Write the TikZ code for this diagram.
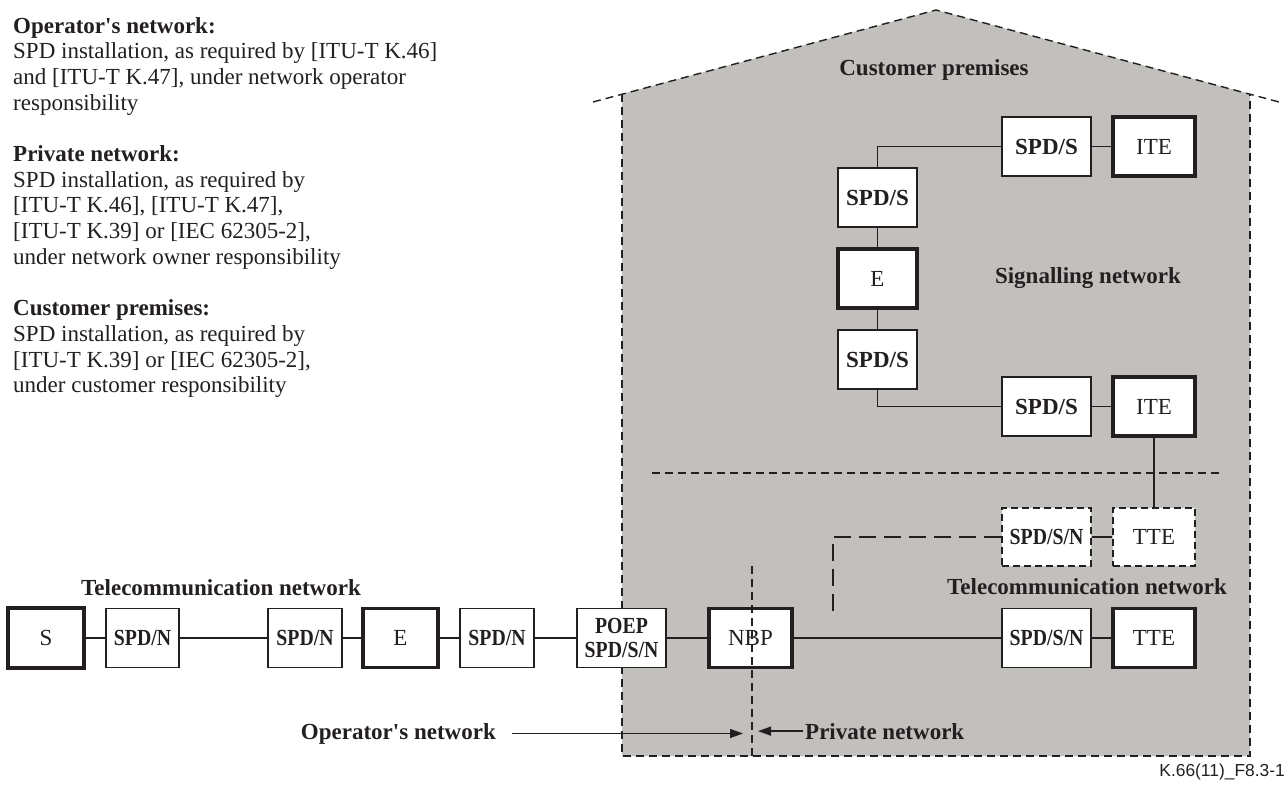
\documentclass[tikz,border=0pt]{standalone}
\usepackage{fontspec}
\setmainfont{Liberation Serif}[Ligatures=TeXOff]
\newfontfamily\sansf{Liberation Sans}
\usepackage{graphicx}
\usetikzlibrary{arrows.meta,calc}
\definecolor{ink}{RGB}{35,31,32}
\definecolor{house}{RGB}{193,192,189}
\newcommand{\narrowtxt}[1]{\scalebox{0.86}[1]{#1}}
\begin{document}
\begin{tikzpicture}[x=1pt,y=-1pt,
 every node/.style={text=ink},
 boxbase/.style={draw=ink,fill=white,inner sep=0pt,minimum height=59pt,font=\fontsize{23}{24}\selectfont},
 thin box/.style={boxbase,line width=1.4pt,font=\fontsize{23}{24}\selectfont\bfseries},
 thick box/.style={boxbase,line width=3.4pt},
 dash box/.style={boxbase,line width=1.4pt,dash pattern=on 7pt off 4pt},
 conn/.style={draw=ink,line width=1.4pt},
 sdash/.style={draw=ink,line width=1.4pt,dash pattern=on 8pt off 5pt},
 ldash/.style={draw=ink,line width=1.4pt,dash pattern=on 17pt off 8pt},
 lbl/.style={font=\fontsize{23}{25.7}\selectfont\bfseries,inner sep=0pt},
 txt/.style={font=\fontsize{23}{25.7}\selectfont,inner sep=0pt,anchor=base west},
 btxt/.style={font=\fontsize{23}{25.7}\selectfont\bfseries,inner sep=0pt,anchor=base west},
 arr/.style={draw=ink,line width=1.4pt,-{Triangle[length=13pt,width=9pt]}},
]
\useasboundingbox (0,0) rectangle (1287,787);

% house
\fill[house] (622,756) -- (622,94) -- (936,10) -- (1250,94) -- (1250,756) -- cycle;
\draw[sdash] (593,102) -- (936,10) -- (1279,102);
\draw[sdash] (622,94) -- (622,756) -- (1250,756) -- (1250,94);
\draw[sdash] (652,473) -- (1220,473);

% left text
\node[btxt] (t0) at (13,33) {Operator's network:};
\node[txt] (t1) at (13,58.7) {SPD installation, as required by [ITU-T K.46]};
\node[txt] (t2) at (13,84.4) {and [ITU-T K.47], under network operator};
\node[txt] (t3) at (13,110.1) {responsibility};
\node[btxt] (t5) at (13,161.5) {Private network:};
\node[txt] (t6) at (13,187.2) {SPD installation, as required by};
\node[txt] (t7) at (13,212.9) {[ITU-T K.46], [ITU-T K.47],};
\node[txt] (t8) at (13,238.6) {[ITU-T K.39] or [IEC 62305-2],};
\node[txt] (t9) at (13,264.3) {under network owner responsibility};
\node[btxt] (t11) at (13,315.7) {Customer premises:};
\node[txt] (t12) at (13,341.4) {SPD installation, as required by};
\node[txt] (t13) at (13,367.1) {[ITU-T K.39] or [IEC 62305-2],};
\node[txt] (t14) at (13,392.8) {under customer responsibility};

% labels
\node[lbl,anchor=base] (cp) at (934,75) {Customer premises};
\node[lbl,anchor=base] (sig) at (1088,283) {Signalling network};
\node[lbl,anchor=base] (telL) at (221,595) {Telecommunication network};
\node[lbl,anchor=base] (telR) at (1087,594) {Telecommunication network};
\node[lbl,anchor=base east] (opnet) at (496,739) {Operator's network};
\node[lbl,anchor=base west] (privnet) at (805,739) {Private network};
\node[anchor=base east,inner sep=0pt,font=\sansf\fontsize{17.4}{20}\selectfont] (fig) at (1285,776) {K.66(11)\_F8.3-1};

% boxes: bottom row
\node[thick box,minimum width=76pt,minimum height=60pt] (S) at (46,638) {S};
\node[thin box,minimum width=73pt] (spdn1) at (142.5,638) {\narrowtxt{SPD/N}};
\node[thin box,minimum width=74pt] (spdn2) at (305,638) {\narrowtxt{SPD/N}};
\node[thick box,minimum width=75pt] (E1) at (400.5,638) {E};
\node[thin box,minimum width=74pt] (spdn3) at (497,638) {\narrowtxt{SPD/N}};
\node[thin box,minimum width=89pt,align=center] (poep) at (621.5,638) {\narrowtxt{POEP}\\\narrowtxt{SPD/S/N}};
\node[thick box,minimum width=83pt] (nbp) at (750.5,638) {NBP};
\node[thin box,minimum width=89pt] (spdsn) at (1046.5,638) {\narrowtxt{SPD/S/N}};
\node[thick box,minimum width=82pt] (tte) at (1154,638) {TTE};

% dashed boxes
\node[dash box,minimum width=89pt,minimum height=58pt,font=\fontsize{23}{24}\selectfont\bfseries] (dspdsn) at (1046.5,537) {\narrowtxt{SPD/S/N}};
\node[dash box,minimum width=82pt,minimum height=58pt] (dtte) at (1154,537) {TTE};

% signalling network
\node[thin box,minimum width=89pt] (spds1) at (1046.5,146.5) {SPD/S};
\node[thick box,minimum width=82pt] (ite1) at (1154,146.5) {ITE};
\node[thin box,minimum width=79pt] (vspds1) at (877.5,197.5) {SPD/S};
\node[thick box,minimum width=79pt] (E2) at (877.5,278.5) {E};
\node[thin box,minimum width=79pt] (vspds2) at (877.5,359.5) {SPD/S};
\node[thin box,minimum width=89pt] (spds3) at (1046.5,406.5) {SPD/S};
\node[thick box,minimum width=82pt] (ite2) at (1154,406.5) {ITE};

% connectors
\draw[conn] (S) -- (spdn1);
\draw[conn] (spdn1) -- (spdn2);
\draw[conn] (spdn2) -- (E1);
\draw[conn] (E1) -- (spdn3);
\draw[conn] (spdn3) -- (poep);
\draw[conn] (poep) -- (nbp);
\draw[conn] (nbp) -- (spdsn);
\draw[conn] (spdsn) -- (tte);
\draw[conn] (dspdsn) -- (dtte);
\draw[conn] (ite2) -- (dtte);
\draw[conn] (spds1) -- (ite1);
\draw[conn] (spds1.west) -| (vspds1.north);
\draw[conn] (vspds1) -- (E2);
\draw[conn] (E2) -- (vspds2);
\draw[conn] (vspds2.south) |- (spds3.west);
\draw[conn] (spds3) -- (ite2);
\coordinate (ldend) at (833,616);
\draw[ldash] (dspdsn.west) -| (ldend);

% boundary
\coordinate (bt) at (752,566);
\coordinate (bb) at (752,756);
\draw[sdash] (bt) -- (bb);
\coordinate (bndL) at (743,733);
\coordinate (bndR) at (758,733);
\draw[arr] ([xshift=16pt]opnet.east) -- (opnet.east -| bndL);
\draw[arr] ([xshift=-2pt]privnet.west) -- (privnet.west -| bndR);
\end{tikzpicture}
\end{document}
